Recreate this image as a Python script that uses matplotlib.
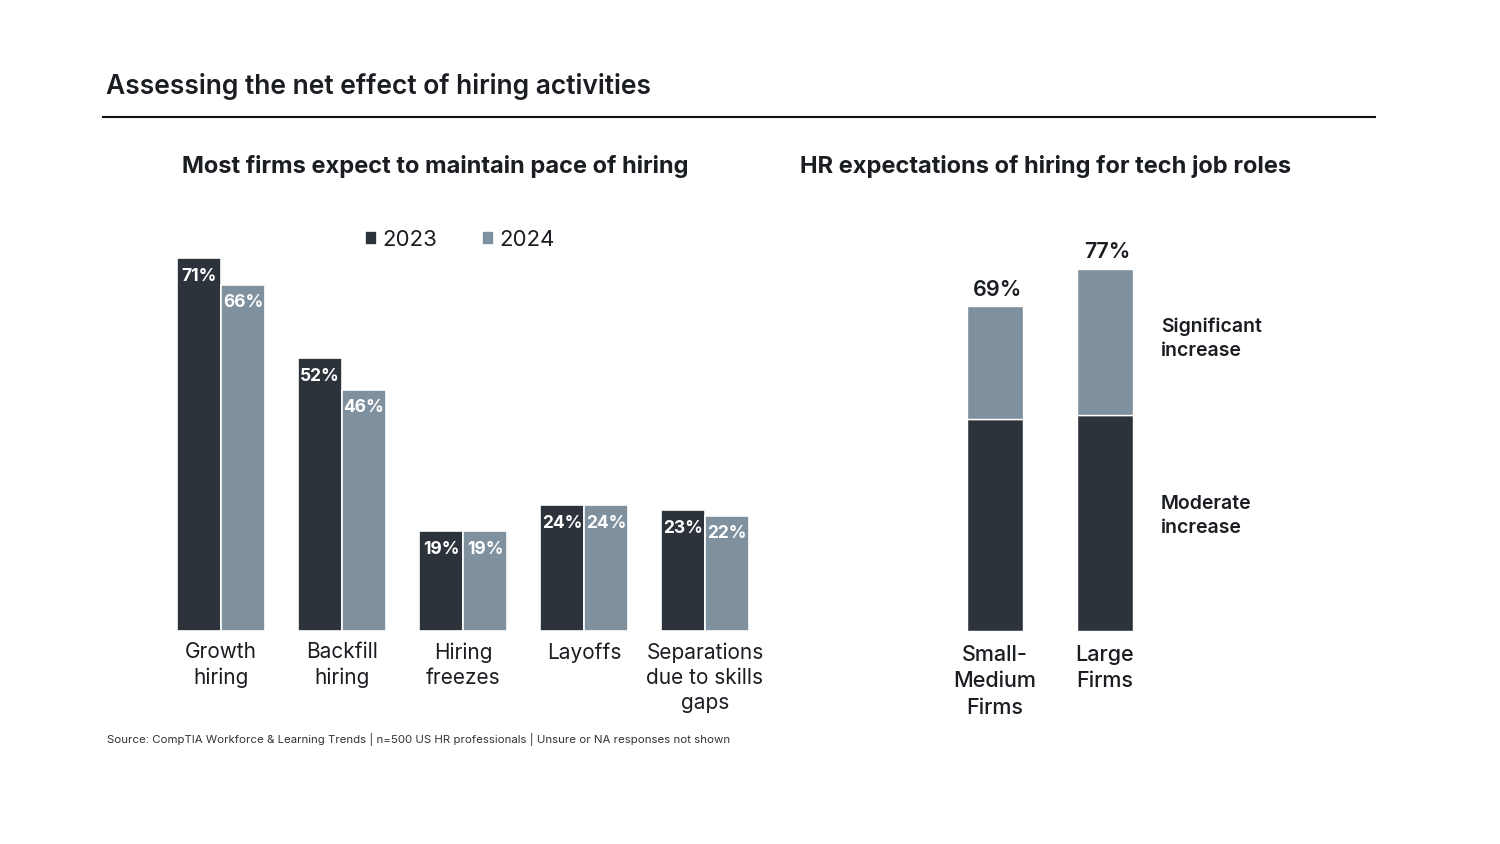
import numpy as np
import matplotlib
matplotlib.use("Agg")
import matplotlib.pyplot as plt

plt.rcParams['font.family'] = ['Inter', 'DejaVu Sans']

# data
activities = ["Growth\nhiring", "Backfill\nhiring", "Hiring\nfreezes", "Layoffs",
              "Separations\ndue to skills\ngaps"]
vals_2023 = [71, 52, 19, 24, 23]
vals_2024 = [66, 46, 19, 24, 22]
years = ["2023", "2024"]

firms = ["Small-\nMedium\nFirms", "Large\nFirms"]
moderate = [45, 46]
significant = [24, 31]
totals = [69, 77]

dark = "#2d333b"
light = "#7f909e"
txt = "#1a1d21"

W, H = 1500, 844
fig = plt.figure(figsize=(15, 8.44), dpi=100)


def fx(px):
    return px / W


def fy(py):
    return 1 - py / H


# header
fig.text(fx(106), fy(86), "Assessing the net effect of hiring activities", fontsize=19,
         fontweight="semibold", color=txt, va="center", ha="left")
fig.add_artist(plt.Line2D([fx(103), fx(1375)], [fy(116.5), fy(116.5)], color="#111111", lw=1.5))

fig.text(fx(435), fy(166), "Most firms expect to maintain pace of hiring", fontsize=17,
         fontweight="bold", color=txt, ha="center", va="center")
fig.text(fx(1046), fy(166), "HR expectations of hiring for tech job roles", fontsize=17,
         fontweight="bold", color=txt, ha="center", va="center")

# left chart
ax = fig.add_axes([fx(150), fy(631), fx(630), (631 - 211) / H])
x = np.arange(len(activities))
bw = 0.363
ax.bar(x - bw / 2, vals_2023, bw, color=dark, edgecolor="white", linewidth=1.2, label=years[0])
ax.bar(x + bw / 2, vals_2024, bw, color=light, edgecolor="white", linewidth=1.2, label=years[1])
ax.set_xlim((150 - 221) / 121, (780 - 221) / 121)
ax.set_ylim(0, 80)
for i in range(len(activities)):
    ax.text(x[i] - bw / 2, vals_2023[i] - 1.9, f"{vals_2023[i]}%", color="white", fontsize=12.5,
            fontweight="bold", ha="center", va="top")
    ax.text(x[i] + bw / 2, vals_2024[i] - 1.9, f"{vals_2024[i]}%", color="white", fontsize=12.5,
            fontweight="bold", ha="center", va="top")
ax.set_xticks(x)
ax.set_xticklabels(activities, fontsize=15, color=txt, linespacing=1.32, va="top")
ax.tick_params(axis="x", length=0, pad=8)
ax.set_yticks([])
for s in ax.spines.values():
    s.set_visible(False)

leg = ax.legend(loc="center", bbox_to_anchor=(fx(460 - 150) / fx(630), (631 - 240) / 420),
                ncol=2, frameon=False, fontsize=16, handlelength=0.55, handleheight=0.55,
                handletextpad=0.25, columnspacing=2.0)
for t in leg.get_texts():
    t.set_color(txt)

fig.text(fx(107), fy(740), "Source: CompTIA Workforce & Learning Trends | n=500 US HR professionals | "
         "Unsure or NA responses not shown", fontsize=8.25, color="#333333", va="center", ha="left")

# right chart
ax2 = fig.add_axes([fx(900), fy(631), fx(300), (631 - 231) / H])
x2 = np.arange(len(firms))
bw2 = 0.51
ax2.bar(x2, moderate, bw2, color=dark, edgecolor="white", linewidth=1.0)
ax2.bar(x2, significant, bw2, bottom=moderate, color=light, edgecolor="white", linewidth=1.0)
ax2.set_xlim((900 - 995) / 110, (1200 - 995) / 110)
ax2.set_ylim(0, 85)
for i in range(len(firms)):
    ax2.text(x2[i] + 0.02, totals[i] + 1.4, f"{totals[i]}%", fontsize=15.5, fontweight="semibold",
             color=txt, ha="center", va="bottom")
ax2.set_xticks(x2)
ax2.set_xticklabels(firms, fontsize=15.5, fontweight="medium", color=txt, linespacing=1.4, va="top")
ax2.tick_params(axis="x", length=0, pad=10)
ax2.set_yticks([])
for s in ax2.spines.values():
    s.set_visible(False)

fig.text(fx(1161), fy(339), "Significant\nincrease", fontsize=14, fontweight="semibold",
         color=txt, ha="left", va="center", linespacing=1.45)
fig.text(fx(1161), fy(516), "Moderate\nincrease", fontsize=14, fontweight="semibold",
         color=txt, ha="left", va="center", linespacing=1.45)

fig.savefig("out.png", dpi=100, facecolor="white")
